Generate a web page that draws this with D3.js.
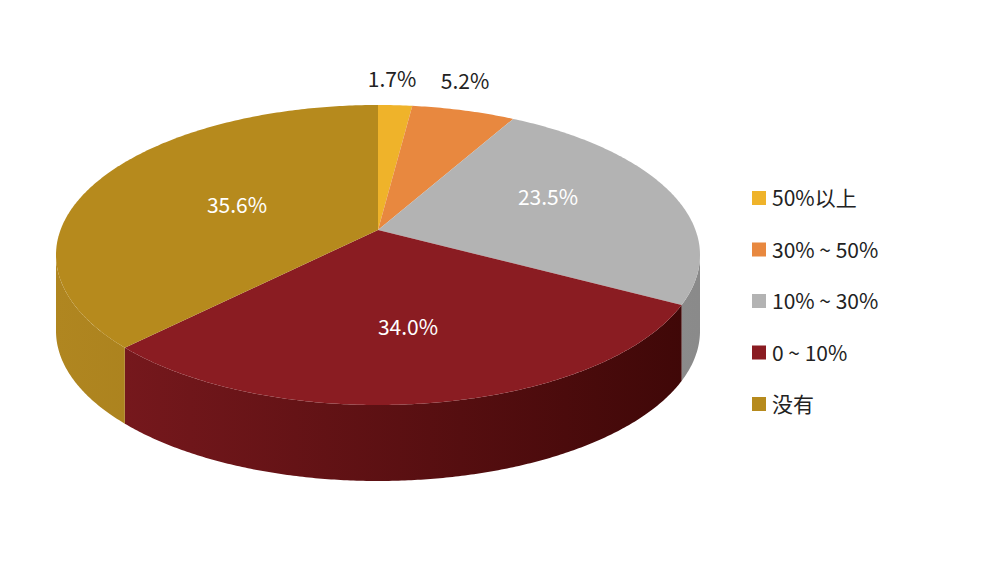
<!DOCTYPE html>
<html><head><meta charset="utf-8">
<script src="https://cdn.jsdelivr.net/npm/d3@7"></script>
<style>body{margin:0;background:#fff}</style>
</head><body>
<svg id="canvas" width="1003" height="567"></svg>
<script>
var categories = ["50%以上", "30% ~ 50%", "10% ~ 30%", "0 ~ 10%", "没有"];
var values = [1.7, 5.2, 23.5, 34.0, 35.6];
var labels = ["1.7%", "5.2%", "23.5%", "34.0%", "35.6%"];
var colors = ["#efb32a", "#e8883f", "#b3b3b3", "#8a1c22", "#b68a1d"];
var sideDark = ["#b8861a", "#b5622a", "#8a8a8a", "#3e0707", "#8f6b14"];
var sideLight = ["#d9a020", "#d07535", "#a0a0a0", "#7c1a1f", "#b08620"];

const svg = d3.select("#canvas");
const cx = 378, cy = 255, rx = 322, ry = 150, depth = 76;
const vx = 378, vy = 230; // slice vertex (perspective offset)
const total = d3.sum(values);
const ang = d3.scaleLinear().domain([0, total]).range([0, 2 * Math.PI]);

let acc = 0;
const slices = values.map((v, i) => {
	const s = { i: i, a0: ang(acc), a1: ang(acc + v) };
	acc += v;
	return s;
});

function pt(a, dy) {
	return [cx + rx * Math.sin(a), cy - ry * Math.cos(a) + (dy || 0)];
}
function arcPts(a0, a1, dy) {
	const n = Math.max(2, Math.ceil((a1 - a0) / 0.01));
	return d3.range(n + 1).map(k => pt(a0 + (a1 - a0) * k / n, dy));
}

const defs = svg.append("defs");
slices.forEach(s => {
	const g = defs.append("linearGradient").attr("id", "side" + s.i)
		.attr("gradientUnits", "userSpaceOnUse")
		.attr("x1", cx - rx).attr("x2", cx + rx).attr("y1", 0).attr("y2", 0);
	g.append("stop").attr("offset", "0").attr("stop-color", sideLight[s.i]);
	g.append("stop").attr("offset", "1").attr("stop-color", sideDark[s.i]);
});

// sides (front half)
const line = d3.line();
slices.forEach(s => {
	const a0 = Math.max(s.a0, Math.PI / 2), a1 = Math.min(s.a1, 3 * Math.PI / 2);
	if (a1 <= a0) return;
	const top = arcPts(a0, a1, 0);
	const bot = arcPts(a0, a1, depth).reverse();
	svg.append("path").attr("d", line(top.concat(bot)) + "Z")
		.attr("fill", "url(#side" + s.i + ")");
});

// top faces
slices.forEach(s => {
	const p = [[vx, vy]].concat(arcPts(s.a0, s.a1, 0));
	svg.append("path").attr("d", line(p) + "Z")
		.attr("fill", colors[s.i]);
});

const labelPos = [[392, 80], [465, 82], [548, 198], [408, 328], [237, 206]];
const labelCol = ["#222", "#222", "#fff", "#fff", "#fff"];
svg.append("g").selectAll("text").data(labels).join("text")
	.attr("x", (d, i) => labelPos[i][0]).attr("y", (d, i) => labelPos[i][1] + 7)
	.attr("text-anchor", "middle")
	.attr("fill", (d, i) => labelCol[i])
	.attr("font-family", "Noto Sans CJK SC, Noto Sans, sans-serif")
	.attr("font-size", 21)
	.text(d => d);

const leg = svg.append("g").selectAll("g").data(categories).join("g")
	.attr("transform", (d, i) => `translate(752,${198 + i * 51.5})`);
leg.append("rect").attr("x", 0).attr("y", -7).attr("width", 14).attr("height", 14)
	.attr("fill", (d, i) => colors[i]);
leg.append("text").attr("x", 20).attr("y", 8)
	.attr("font-family", "Noto Sans CJK SC, Noto Sans, sans-serif")
	.attr("font-size", 21).attr("fill", "#222")
	.text(d => d);
</script>
</body></html>
